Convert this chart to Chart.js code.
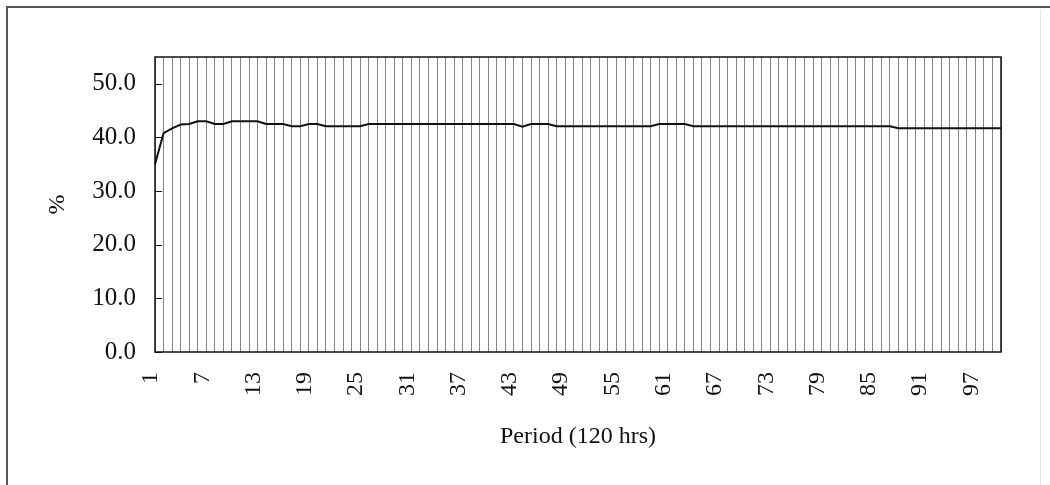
<!DOCTYPE html>
<html>
<head>
<meta charset="utf-8">
<script src="https://cdn.jsdelivr.net/npm/chart.js@4/dist/chart.umd.min.js"></script>
<style>
  html, body { margin: 0; padding: 0; background: #ffffff; }
  #wrap { width: 1050px; height: 485px; }
</style>
</head>
<body>
<div id="wrap"><canvas id="chart" width="1050" height="485"></canvas></div>
<script>
// Period numbers along the x axis
const periods = [
  1, 2, 3, 4, 5, 6, 7, 8, 9, 10, 11, 12, 13, 14, 15, 16, 17, 18, 19, 20,
  21, 22, 23, 24, 25, 26, 27, 28, 29, 30, 31, 32, 33, 34, 35, 36, 37, 38, 39, 40,
  41, 42, 43, 44, 45, 46, 47, 48, 49, 50, 51, 52, 53, 54, 55, 56, 57, 58, 59, 60,
  61, 62, 63, 64, 65, 66, 67, 68, 69, 70, 71, 72, 73, 74, 75, 76, 77, 78, 79, 80,
  81, 82, 83, 84, 85, 86, 87, 88, 89, 90, 91, 92, 93, 94, 95, 96, 97, 98, 99, 100
];

// Percentage per period
const percent = [
  35.0, 40.8, 41.7, 42.4, 42.5, 43.0, 43.0, 42.5, 42.5, 43.0,
  43.0, 43.0, 43.0, 42.5, 42.5, 42.5, 42.1, 42.1, 42.5, 42.5,
  42.1, 42.1, 42.1, 42.1, 42.1, 42.5, 42.5, 42.5, 42.5, 42.5,
  42.5, 42.5, 42.5, 42.5, 42.5, 42.5, 42.5, 42.5, 42.5, 42.5,
  42.5, 42.5, 42.5, 42.0, 42.5, 42.5, 42.5, 42.1, 42.1, 42.1,
  42.1, 42.1, 42.1, 42.1, 42.1, 42.1, 42.1, 42.1, 42.1, 42.5,
  42.5, 42.5, 42.5, 42.1, 42.1, 42.1, 42.1, 42.1, 42.1, 42.1,
  42.1, 42.1, 42.1, 42.1, 42.1, 42.1, 42.1, 42.1, 42.1, 42.1,
  42.1, 42.1, 42.1, 42.1, 42.1, 42.1, 42.1, 41.7, 41.7, 41.7,
  41.7, 41.7, 41.7, 41.7, 41.7, 41.7, 41.7, 41.7, 41.7, 41.7
];

// Value ticks on the y axis and the step between labelled periods
const yTicks = [0, 10, 20, 30, 40, 50];
const xLabelEvery = 6;

const serif = '"Liberation Serif", "Times New Roman", serif';
const ink = '#111111';

// White page with the outer chart frame
const framePlugin = {
  id: 'frame',
  beforeDraw(chart) {
    const ctx = chart.ctx;
    ctx.save();
    ctx.fillStyle = '#ffffff';
    ctx.fillRect(0, 0, chart.width, chart.height);
    ctx.strokeStyle = '#555555';
    ctx.lineWidth = 2;
    ctx.beginPath();
    ctx.moveTo(7, chart.height);
    ctx.lineTo(7, 7);
    ctx.lineTo(chart.width, 7);
    ctx.stroke();
    ctx.strokeStyle = '#e4e4e4';
    ctx.lineWidth = 1;
    ctx.beginPath();
    ctx.moveTo(1040.5, 10);
    ctx.lineTo(1040.5, chart.height);
    ctx.stroke();
    ctx.restore();
  }
};

// Plot-area border and inward tick marks on the value axis
const plotBorderPlugin = {
  id: 'plotBorder',
  afterDatasetsDraw(chart) {
    const { ctx, chartArea: a, scales } = chart;
    ctx.save();
    ctx.strokeStyle = ink;
    ctx.lineWidth = 1.5;
    ctx.strokeRect(a.left, a.top, a.right - a.left, a.bottom - a.top);
    ctx.lineWidth = 1;
    ctx.beginPath();
    yTicks.forEach(v => {
      const y = Math.round(scales.y.getPixelForValue(v)) + 0.5;
      ctx.moveTo(a.left, y);
      ctx.lineTo(a.left + 7, y);
    });
    ctx.stroke();
    ctx.restore();
  }
};

new Chart(document.getElementById('chart'), {
  type: 'line',
  data: {
    labels: periods,
    datasets: [{
      data: percent,
      borderColor: ink,
      borderWidth: 2,
      pointRadius: 0,
      tension: 0,
      fill: false
    }]
  },
  options: {
    responsive: false,
    animation: false,
    devicePixelRatio: 1,
    layout: { padding: { left: 0, top: 57, right: 49, bottom: 0 } },
    plugins: { legend: { display: false }, tooltip: { enabled: false } },
    scales: {
      x: {
        type: 'category',
        offset: false,
        afterFit(scale) { scale.height = 133; },
        grid: { display: true, color: '#858585', lineWidth: 1, drawTicks: false, offset: false },
        border: { display: false },
        ticks: {
          autoSkip: false,
          maxRotation: 90,
          minRotation: 90,
          padding: 20,
          labelOffset: -4,
          color: ink,
          font: { family: serif, size: 24 },
          callback(value, index) {
            return index % xLabelEvery === 0 ? String(periods[index]) : '';
          }
        },
        title: {
          display: true,
          text: 'Period (120 hrs)',
          color: ink,
          font: { family: serif, size: 24 },
          padding: { top: 0, bottom: 34 }
        }
      },
      y: {
        min: 0,
        max: 55,
        afterFit(scale) { scale.width = 155; },
        afterBuildTicks(scale) { scale.ticks = yTicks.map(v => ({ value: v })); },
        grid: { display: false, drawTicks: false },
        border: { display: false },
        ticks: {
          padding: 19,
          color: ink,
          font: { family: serif, size: 25 },
          callback(value) { return Number(value).toFixed(1); }
        },
        title: {
          display: true,
          text: '%',
          color: ink,
          font: { family: serif, size: 24 },
          padding: { top: 43, bottom: 0 }
        }
      }
    }
  },
  plugins: [framePlugin, plotBorderPlugin]
});
</script>
</body>
</html>
